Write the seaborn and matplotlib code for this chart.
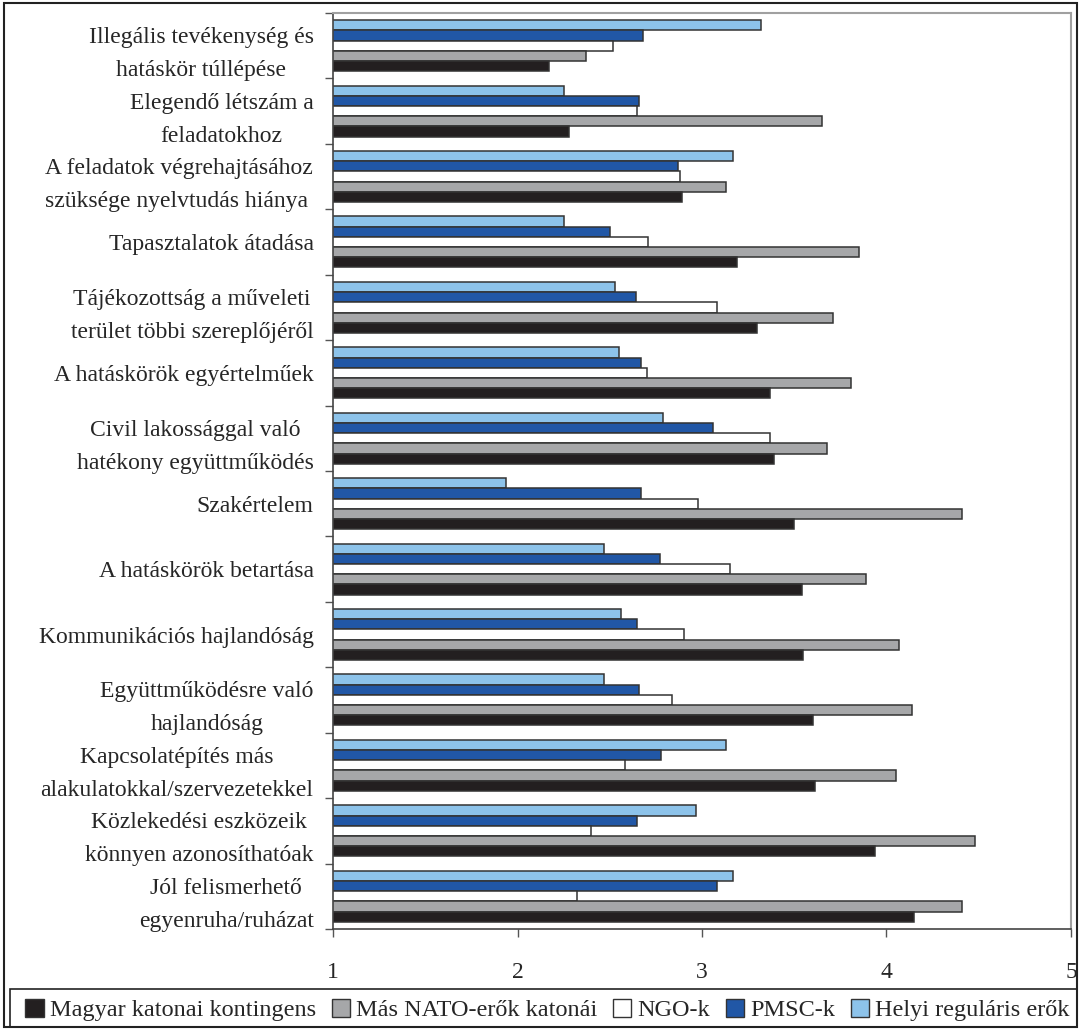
import pandas as pd
import matplotlib
matplotlib.use("Agg")
import matplotlib.pyplot as plt
import seaborn as sns
from matplotlib.patches import Patch, Rectangle

# Données
categories = [
    "Illegális tevékenység és\nhatáskör túllépése",
    "Elegendő létszám a\nfeladatokhoz",
    "A feladatok végrehajtásához\nszüksége nyelvtudás hiánya ",
    "Tapasztalatok átadása",
    "Tájékozottság a műveleti\nterület többi szereplőjéről",
    "A hatáskörök egyértelműek",
    "Civil lakossággal való\nhatékony együttműködés",
    "Szakértelem",
    "A hatáskörök betartása",
    "Kommunikációs hajlandóság",
    "Együttműködésre való\nhajlandóság",
    "Kapcsolatépítés más\nalakulatokkal/szervezetekkel",
    "Közlekedési eszközeik\nkönnyen azonosíthatóak",
    "Jól felismerhető\negyenruha/ruházat",
]

magyar = [2.17, 2.28, 2.89, 3.19, 3.30, 3.37, 3.39, 3.50, 3.54, 3.55, 3.60, 3.61, 3.94, 4.15]
nato = [2.37, 3.65, 3.13, 3.85, 3.71, 3.81, 3.68, 4.41, 3.89, 4.07, 4.14, 4.05, 4.48, 4.41]
ngo = [2.52, 2.65, 2.88, 2.71, 3.08, 2.70, 3.37, 2.98, 3.15, 2.90, 2.84, 2.58, 2.40, 2.32]
pmsc = [2.68, 2.66, 2.87, 2.50, 2.64, 2.67, 3.06, 2.67, 2.77, 2.65, 2.66, 2.78, 2.65, 3.08]
helyi = [3.32, 2.25, 3.17, 2.25, 2.53, 2.55, 2.79, 1.94, 2.47, 2.56, 2.47, 3.13, 2.97, 3.17]

series_names = ["Magyar katonai kontingens", "Más NATO-erők katonái", "NGO-k",
                "PMSC-k", "Helyi reguláris erők"]
colors = ["#231F20", "#A6A7A9", "#FFFFFF", "#2157A6", "#8DC3EA"]
x_ticks = [1, 2, 3, 4, 5]

df = pd.DataFrame({"Kategória": categories})
for name, vals in zip(series_names, [magyar, nato, ngo, pmsc, helyi]):
    df[name] = vals
df_long = df.melt(id_vars="Kategória", var_name="Sorozat", value_name="Érték")

sns.set_style("white")
plt.rcParams["font.family"] = ["Liberation Serif", "DejaVu Serif"]

fig = plt.figure(figsize=(10.84, 10.30), dpi=100)
ax = fig.add_axes([0.3072, 0.0981, 0.988 - 0.3072, 0.9874 - 0.0981])

palette = dict(zip(series_names, colors))
hue_order = series_names[::-1]  # le premier niveau est dessiné en haut
sns.barplot(data=df_long, y="Kategória", x="Érték", hue="Sorozat", hue_order=hue_order,
            palette=palette, order=categories, orient="h", width=0.78, saturation=1,
            edgecolor="#333333", linewidth=1.1, legend=False, ax=ax)

ax.set_xlim(1, 5)
ax.set_xticks(x_ticks)
ax.set_xticklabels([str(t) for t in x_ticks])
ax.set_xlabel("")
ax.set_ylabel("")

n = len(categories)
ax.set_yticks(range(n))
ax.set_yticks([i - 0.5 for i in range(n + 1)], minor=True)
ax.tick_params(axis="y", which="major", length=0, pad=14, labelsize=17)
ax.tick_params(axis="y", which="minor", left=True, length=6, width=1.0,
               color="#555555", direction="out")
ax.tick_params(axis="x", which="major", bottom=True, length=6, width=1.0,
               color="#555555", direction="out", pad=18, labelsize=17)
for lab in ax.get_yticklabels():
    lab.set_multialignment("center")
    lab.set_linespacing(1.75)

for side in ["top", "right"]:
    ax.spines[side].set_color("#A0A0A0")
    ax.spines[side].set_linewidth(1.5)
for side in ["left", "bottom"]:
    ax.spines[side].set_color("#444444")
    ax.spines[side].set_linewidth(1.2)

# Cadre extérieur et cadre de la légende
fig.patches.append(Rectangle((4 / 1084, 3 / 1030), 1073 / 1084, 1024 / 1030,
                             transform=fig.transFigure, fill=False,
                             edgecolor="#222222", linewidth=1.5))
fig.patches.append(Rectangle((10 / 1084, 3 / 1030), 1067 / 1084, 38 / 1030,
                             transform=fig.transFigure, fill=False,
                             edgecolor="#222222", linewidth=1.2))

handles = [Patch(facecolor=c, edgecolor="#333333", linewidth=1.0) for c in colors]
fig.legend(handles, series_names, loc="center", bbox_to_anchor=(0.505, 20 / 1030),
           ncol=5, frameon=False, fontsize=17.5, handlelength=0.75, handleheight=0.75,
           handletextpad=0.25, columnspacing=0.65, borderaxespad=0)

fig.savefig("out.png", dpi=100)
